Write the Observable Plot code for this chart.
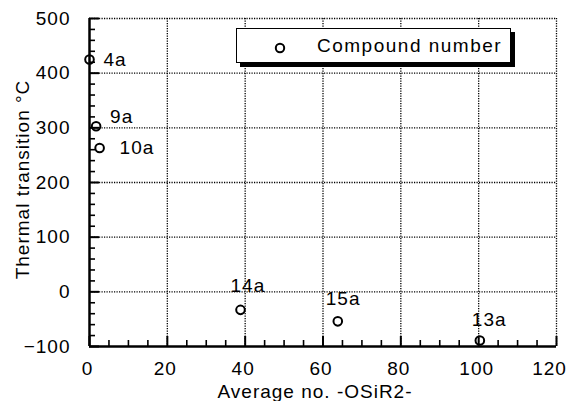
<!DOCTYPE html>
<html><head><meta charset="utf-8">
<script src="https://cdn.jsdelivr.net/npm/d3@7"></script>
<script src="https://cdn.jsdelivr.net/npm/@observablehq/plot@0.6"></script>
<style>
body{margin:0;background:#fff;}
#wrap{position:relative;width:571px;height:401px;}
#legend{position:absolute;left:236px;top:28px;width:273px;height:33px;border:1.5px solid #000;box-shadow:4px 4px 0 #000;background:#fff;font:19px "Liberation Sans",Arial,sans-serif;letter-spacing:1.5px;color:#000;}
#legend svg{position:absolute;left:36px;top:12px;}
#legend span{position:absolute;left:80px;top:6px;}
</style></head><body><div id="wrap"></div>
<script>
// Data
const compounds = ["4a", "9a", "10a", "14a", "15a", "13a"];
const avgOSiR2 = [0, 1.7, 2.6, 38.8, 63.8, 100.3];
const thermalTransition = [425, 303, 263, -33, -54, -89];
const legendLabel = "Compound number";
const xTitle = "Average no. -OSiR2-";
const yTitle = "Thermal transition °C";
const xTicks = [0, 20, 40, 60, 80, 100, 120];
const yTicks = [-100, 0, 100, 200, 300, 400, 500];

// Layout (label offsets in pixels)
const labelDx = [14, 14, 20, -10, -12, -8];
const labelDy = [0, -9, 0, -24, -22, -21];

const W = 571, H = 401, mt = 18, mr = 15, mb = 55, ml = 89;
const innerW = W - ml - mr, innerH = H - mt - mb;
const xMinor = d3.range(0, 121, 5).filter(v => !xTicks.includes(v));
const yMinor = d3.range(-100, 501, 20).filter(v => !yTicks.includes(v));
const idx = compounds.map((_, i) => i);

const grid = {stroke: "#000", strokeOpacity: 1, strokeDasharray: "1.2,1.3", strokeWidth: 1.3};

const plot = Plot.plot({
  width: W, height: H,
  marginTop: mt, marginRight: mr, marginBottom: mb, marginLeft: ml,
  style: "font-family: 'Liberation Sans', Arial, sans-serif; font-size: 19px; letter-spacing: 1px; color: #000; background: #fff; overflow: visible;",
  x: {domain: [0, 120]},
  y: {domain: [-100, 500]},
  marks: [
    Plot.gridX(xTicks.slice(1), grid),
    Plot.gridY(yTicks.slice(1), grid),
    // inward ticks
    Plot.tickX(xTicks, {x: d => d, insetTop: innerH - 10, strokeWidth: 2}),
    Plot.tickX(xMinor, {x: d => d, insetTop: innerH - 6, strokeWidth: 1.6}),
    Plot.tickY(yTicks, {y: d => d, insetRight: innerW - 10, strokeWidth: 2}),
    Plot.tickY(yMinor, {y: d => d, insetRight: innerW - 6, strokeWidth: 1.6}),
    Plot.axisX(xTicks.slice(0, -1), {tickSize: 0, tickPadding: 15, dx: -2, label: null, fontSize: 19}),
    Plot.axisX(xTicks.slice(-1), {tickSize: 0, tickPadding: 15, dx: -7, label: null, fontSize: 19}),
    Plot.axisY(yTicks, {tickSize: 0, tickPadding: 19, label: null, fontSize: 19}),
    Plot.ruleX([0], {strokeWidth: 2.5}),
    Plot.ruleY([-100], {strokeWidth: 2.5}),
    Plot.dot(idx, {x: i => avgOSiR2[i], y: i => thermalTransition[i], r: 4.3, stroke: "#000", strokeWidth: 2, fill: "none"}),
    ...idx.map(i => Plot.text([i], {
      x: d => avgOSiR2[d], y: d => thermalTransition[d], text: d => compounds[d],
      dx: labelDx[i], dy: labelDy[i], textAnchor: "start", fontSize: 19, fill: "#000"
    })),
    Plot.text([xTitle], {frameAnchor: "bottom", text: d => d, dy: 45, dx: -8, textAnchor: "middle", lineAnchor: "middle", fontSize: 19, fill: "#000"}),
    Plot.text([yTitle], {frameAnchor: "left", text: d => d, dx: -67, dy: -3, rotate: -90, textAnchor: "middle", lineAnchor: "middle", fontSize: 19, fill: "#000"})
  ]
});
const wrap = document.getElementById("wrap");
wrap.appendChild(plot);
const lg = document.createElement("div");
lg.id = "legend";
lg.innerHTML = '<svg width="14" height="14"><circle cx="7" cy="7" r="4.2" fill="none" stroke="#000" stroke-width="2"/></svg><span></span>';
lg.querySelector("span").textContent = legendLabel;
wrap.appendChild(lg);
</script></body></html>
